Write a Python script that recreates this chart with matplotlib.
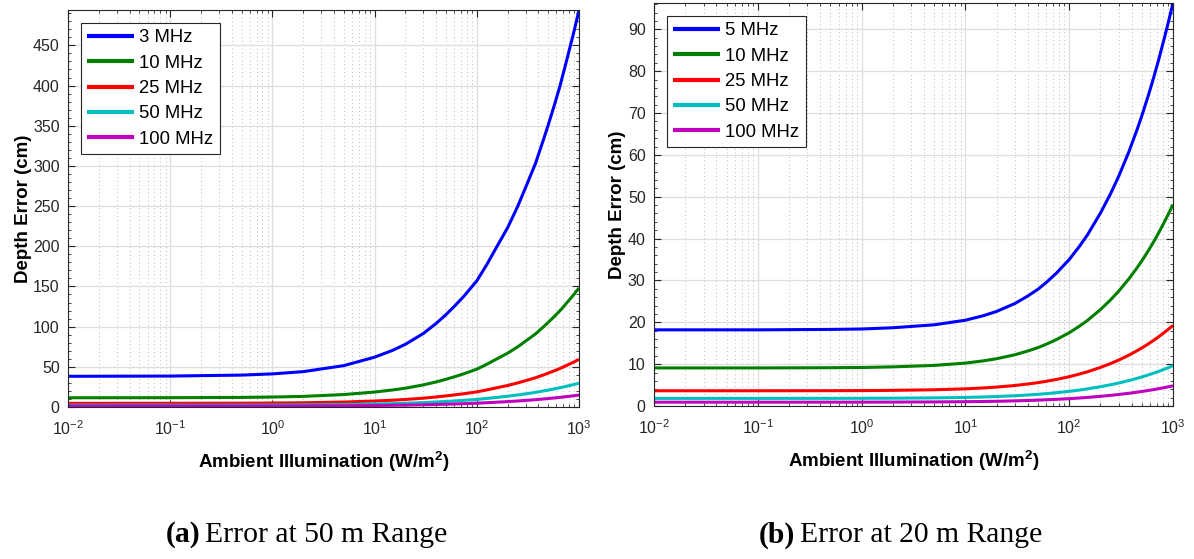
import matplotlib
matplotlib.use('Agg')
import matplotlib.pyplot as plt
from matplotlib.ticker import LogLocator, MultipleLocator, NullFormatter

plt.rcParams['font.family'] = ['Liberation Sans', 'DejaVu Sans']
plt.rcParams['mathtext.fontset'] = 'custom'
plt.rcParams['mathtext.rm'] = 'Liberation Sans'
plt.rcParams['mathtext.bf'] = 'Liberation Sans:bold'

# Ambient illumination (W/m^2) sample points
illum = [0.01, 0.1, 0.5, 1, 2, 5, 10, 15, 20, 30, 40, 50, 60, 75, 100, 125, 150,
         200, 250, 300, 375, 450, 500, 575, 650, 725, 825, 900, 1000]

# (a) error at 50 m range, depth error in cm
labels_a = ['3 MHz', '10 MHz', '25 MHz', '50 MHz', '100 MHz']
err_a_3 = [38.2, 38.5, 39.7, 41.2, 44.0, 51.5, 62.0, 70.5, 78.0, 91.5, 104, 115, 125, 138, 157, 177, 195,
           223, 249, 273, 303, 333, 351, 376, 399, 422, 450, 469, 494]
err_a_10 = [11.5, 11.6, 11.9, 12.4, 13.2, 15.5, 18.6, 21.2, 23.4, 27.5, 31.2, 34.5, 37.5, 41.4, 47.1, 53.1, 58.5,
            66.9, 74.7, 81.9, 90.9, 99.9, 105.3, 112.8, 119.7, 126.6, 135.0, 140.7, 148.2]
err_a_25 = [4.58, 4.62, 4.76, 4.94, 5.28, 6.18, 7.44, 8.46, 9.36, 10.98, 12.48, 13.8, 15.0, 16.56, 18.84, 21.24, 23.4,
            26.76, 29.88, 32.76, 36.36, 39.96, 42.12, 45.12, 47.88, 50.64, 54.0, 56.28, 59.28]
err_a_50 = [2.29, 2.31, 2.38, 2.47, 2.64, 3.09, 3.72, 4.23, 4.68, 5.49, 6.24, 6.9, 7.5, 8.28, 9.42, 10.62, 11.7,
            13.38, 14.94, 16.38, 18.18, 19.98, 21.06, 22.56, 23.94, 25.32, 27.0, 28.14, 29.64]
err_a_100 = [1.15, 1.16, 1.19, 1.24, 1.32, 1.55, 1.86, 2.12, 2.34, 2.75, 3.12, 3.45, 3.75, 4.14, 4.71, 5.31, 5.85,
             6.69, 7.47, 8.19, 9.09, 9.99, 10.53, 11.28, 11.97, 12.66, 13.5, 14.07, 14.82]

# (b) error at 20 m range, depth error in cm
labels_b = ['5 MHz', '10 MHz', '25 MHz', '50 MHz', '100 MHz']
err_b_5 = [18.2, 18.2, 18.3, 18.4, 18.7, 19.4, 20.5, 21.6, 22.6, 24.5, 26.3, 27.9, 29.5, 31.7, 35.0, 38.1, 40.9,
           46.1, 50.7, 54.9, 60.7, 66.0, 69.3, 74.0, 78.4, 82.6, 87.9, 91.6, 96.3]
err_b_10 = [9.1, 9.1, 9.15, 9.2, 9.35, 9.7, 10.25, 10.8, 11.3, 12.25, 13.15, 13.95, 14.75, 15.85, 17.5, 19.05, 20.45,
            23.05, 25.35, 27.45, 30.35, 33.0, 34.65, 37.0, 39.2, 41.3, 43.95, 45.8, 48.15]
err_b_25 = [3.64, 3.64, 3.66, 3.68, 3.74, 3.88, 4.1, 4.32, 4.52, 4.9, 5.26, 5.58, 5.9, 6.34, 7.0, 7.62, 8.18,
            9.22, 10.14, 10.98, 12.14, 13.2, 13.86, 14.8, 15.68, 16.52, 17.58, 18.32, 19.26]
err_b_50 = [1.82, 1.82, 1.83, 1.84, 1.87, 1.94, 2.05, 2.16, 2.26, 2.45, 2.63, 2.79, 2.95, 3.17, 3.5, 3.81, 4.09,
            4.61, 5.07, 5.49, 6.07, 6.6, 6.93, 7.4, 7.84, 8.26, 8.79, 9.16, 9.63]
err_b_100 = [0.91, 0.91, 0.92, 0.92, 0.94, 0.97, 1.03, 1.08, 1.13, 1.23, 1.32, 1.4, 1.48, 1.59, 1.75, 1.91, 2.05,
             2.31, 2.54, 2.75, 3.04, 3.3, 3.47, 3.7, 3.92, 4.13, 4.4, 4.58, 4.82]

colors = ['#0000ff', '#007f00', '#ff0000', '#00bfbf', '#bf00bf']

fig = plt.figure(figsize=(11.94, 5.59), dpi=100)
ax_a = fig.add_axes([68 / 1194, 1 - 407 / 559, 511 / 1194, 397 / 559])
ax_b = fig.add_axes([654 / 1194, 1 - 406 / 559, 519 / 1194, 403 / 559])


def style_axis(ax, series, labels, ymax, ystep, yminor):
    for ys, lab, c in zip(series, labels, colors):
        ax.plot(illum, ys, color=c, linewidth=2.2, label=lab, solid_capstyle='butt')
    ax.set_xscale('log')
    ax.set_xlim(1e-2, 1e3)
    ax.set_ylim(0, ymax)
    ax.yaxis.set_major_locator(MultipleLocator(ystep))
    ax.yaxis.set_minor_locator(MultipleLocator(yminor))
    ax.xaxis.set_major_locator(LogLocator(base=10, numticks=20))
    ax.xaxis.set_minor_locator(LogLocator(base=10, subs=range(2, 10), numticks=20))
    ax.xaxis.set_minor_formatter(NullFormatter())
    ax.grid(True, which='major', color='#dedede', linewidth=0.9)
    ax.grid(True, which='minor', axis='x', color='#b8b8b8', linewidth=0.7, linestyle=(0, (1, 3)))
    ax.set_axisbelow(True)
    ax.tick_params(which='both', direction='in', top=True, right=True,
                   colors='#262626', labelcolor='#262626', labelsize=11.5)
    ax.tick_params(which='major', length=5)
    ax.tick_params(which='minor', length=2.5)
    ax.tick_params(axis='x', which='major', pad=9)
    ax.tick_params(axis='y', which='major', pad=6)
    for s in ax.spines.values():
        s.set_color('#262626')
        s.set_linewidth(0.8)
    ax.set_xlabel(r'Ambient Illumination (W/m$^{\mathbf{2}}$)', fontsize=13.5, fontweight='bold', labelpad=8)
    ax.set_ylabel('Depth Error (cm)', fontsize=13.5, fontweight='bold', labelpad=1)
    leg = ax.legend(loc='upper left', fontsize=13.3, handlelength=2.5, handletextpad=0.3,
                    borderpad=0.35, labelspacing=0.45, fancybox=False, framealpha=1,
                    borderaxespad=0.7)
    leg.get_frame().set_edgecolor('#262626')
    leg.get_frame().set_linewidth(0.8)
    for line in leg.get_lines():
        line.set_linewidth(3)


style_axis(ax_a, [err_a_3, err_a_10, err_a_25, err_a_50, err_a_100], labels_a,
           max(err_a_3), 50, 10)
style_axis(ax_b, [err_b_5, err_b_10, err_b_25, err_b_50, err_b_100], labels_b,
           max(err_b_5), 10, 2)

# captions under each panel
cap_y = 1 - 535 / 559
fig.text(200 / 1194, cap_y, '(a)', family='Liberation Serif', fontweight='bold',
         fontsize=21.3, ha='right', va='center')
fig.text(205 / 1194, cap_y, 'Error at 50 m Range', family='Liberation Serif',
         fontsize=21.3, ha='left', va='center')
fig.text(795 / 1194, cap_y, '(b)', family='Liberation Serif', fontweight='bold',
         fontsize=21.3, ha='right', va='center')
fig.text(800 / 1194, cap_y, 'Error at 20 m Range', family='Liberation Serif',
         fontsize=21.3, ha='left', va='center')

fig.savefig('out.png', dpi=100)
